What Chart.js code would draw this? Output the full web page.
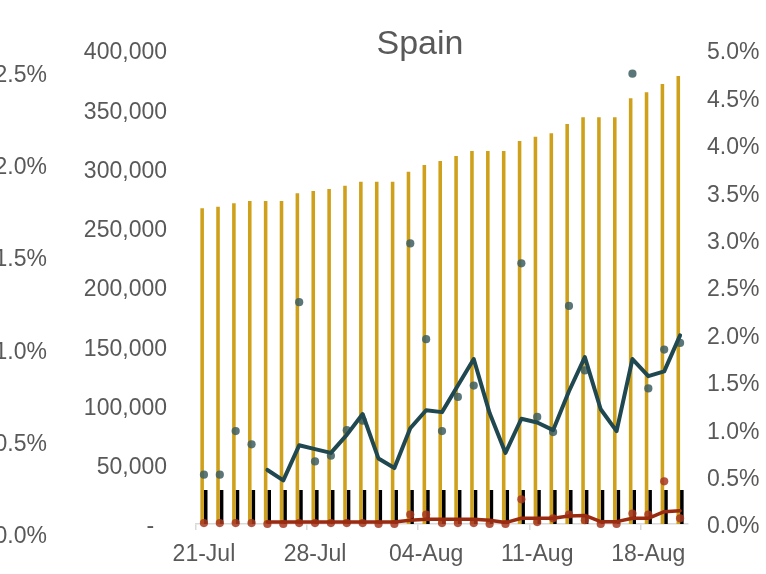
<!DOCTYPE html>
<html>
<head>
<meta charset="utf-8">
<script src="https://cdn.jsdelivr.net/npm/chart.js@4.4.1/dist/chart.umd.min.js"></script>
<style>
  body { margin: 0; background: #fff; }
</style>
</head>
<body>
<canvas id="chart" width="766" height="574"></canvas>
<script>
const dates = ['21-Jul', '22-Jul', '23-Jul', '24-Jul', '25-Jul', '26-Jul', '27-Jul', '28-Jul', '29-Jul', '30-Jul', '31-Jul',
  '01-Aug', '02-Aug', '03-Aug', '04-Aug', '05-Aug', '06-Aug', '07-Aug', '08-Aug', '09-Aug', '10-Aug',
  '11-Aug', '12-Aug', '13-Aug', '14-Aug', '15-Aug', '16-Aug', '17-Aug', '18-Aug', '19-Aug', '20-Aug'];

// cumulative cases (left axis)
const totalCases = [266400, 267800, 270600, 272600, 272600, 272600, 279100, 281000, 282700, 285500, 288900,
  288900, 288900, 297300, 303000, 306300, 310600, 314800, 314800, 314800, 323200,
  326800, 329700, 337600, 343200, 343200, 343200, 359200, 364300, 371300, 378100];
const baseBars = [28700, 28700, 28700, 28700, 28700, 28700, 28700, 28700, 28700, 28700, 28700,
  28700, 28700, 28700, 28700, 28700, 28700, 28700, 28700, 28700, 28700,
  28700, 28700, 28700, 28700, 28700, 28700, 28700, 28700, 28700, 28700];

// percentages (right axis)
const growthDaily = [0.52, 0.52, 0.98, 0.84, null, null, 2.34, 0.66, 0.72, 0.99, 1.09,
  null, null, 2.96, 1.95, 0.98, 1.34, 1.46, null, null, 2.75,
  1.13, 0.97, 2.30, 1.62, null, null, 4.75, 1.43, 1.84, 1.91];
const growthAvg = [null, null, null, null, 0.57, 0.46, 0.83, 0.79, 0.75, 0.94, 1.16,
  0.69, 0.59, 1.01, 1.20, 1.18, 1.46, 1.74, 1.17, 0.75, 1.11,
  1.07, 0.99, 1.40, 1.76, 1.21, 0.98, 1.74, 1.56, 1.61, 1.99];
const deathsDaily = [0.01, 0.01, 0.01, 0.01, 0, 0, 0.01, 0.01, 0.01, 0.01, 0.01,
  0, 0, 0.10, 0.10, 0.01, 0.01, 0.01, 0, 0, 0.26,
  0.02, 0.06, 0.10, 0.04, 0, 0, 0.11, 0.10, 0.45, 0.06];
const deathsAvg = [null, null, null, null, 0.02, 0.02, 0.02, 0.02, 0.02, 0.02, 0.02,
  0.02, 0.02, 0.04, 0.05, 0.05, 0.05, 0.05, 0.04, 0.015, 0.06,
  0.06, 0.06, 0.085, 0.09, 0.025, 0.025, 0.06, 0.06, 0.13, 0.14];

// tick labels
const leftTicks = [0, 50000, 100000, 150000, 200000, 250000, 300000, 350000, 400000];
const rightTicks = [0, 0.5, 1, 1.5, 2, 2.5, 3, 3.5, 4, 4.5, 5];
const farLeftTicks = [0, 0.5, 1, 1.5, 2, 2.5];

const FONT = "'Liberation Sans', Arial, sans-serif";
const GREY = '#595959';
const tickFont = { family: FONT, size: 23 };

// title sits off-centre in the original, so draw it ourselves
const titlePlugin = {
  id: 'titleAt',
  afterDraw(chart) {
    const ctx = chart.ctx;
    ctx.save();
    ctx.font = '34px ' + FONT;
    ctx.fillStyle = GREY;
    ctx.textAlign = 'center';
    ctx.textBaseline = 'alphabetic';
    ctx.fillText('Spain', 420, 54);
    ctx.restore();
  }
};

const fixedTicks = (list) => (scale) => {
  scale.ticks = list.map(v => ({ value: v }));
};

new Chart(document.getElementById('chart'), {
  data: {
    labels: dates,
    datasets: [
      {
        type: 'bar', data: totalCases, yAxisID: 'y', order: 4,
        backgroundColor: '#CFA01A', categoryPercentage: 0.45, barPercentage: 1.0
      },
      {
        type: 'bar', data: baseBars, yAxisID: 'y', order: 5,
        backgroundColor: '#000000', categoryPercentage: 0.45, barPercentage: 1.0
      },
      {
        type: 'line', data: growthDaily, yAxisID: 'y2', order: 3, showLine: false, clip: false,
        pointRadius: 4.1, pointBackgroundColor: 'rgba(62,94,98,0.85)', pointBorderWidth: 0
      },
      {
        type: 'line', data: deathsDaily, yAxisID: 'y2', order: 2, showLine: false, clip: false,
        pointRadius: 4.1, pointBackgroundColor: 'rgba(168,56,34,0.85)', pointBorderWidth: 0
      },
      {
        type: 'line', data: growthAvg, yAxisID: 'y2', order: 1,
        borderColor: '#1F4851', borderWidth: 4, pointRadius: 0, tension: 0,
        borderJoinStyle: 'round', borderCapStyle: 'round'
      },
      {
        type: 'line', data: deathsAvg, yAxisID: 'y2', order: 0,
        borderColor: '#9A2A10', borderWidth: 3.5, pointRadius: 0, tension: 0,
        borderJoinStyle: 'round', borderCapStyle: 'round'
      }
    ]
  },
  options: {
    responsive: false,
    animation: false,
    layout: { padding: { top: 50, left: 0, right: 0, bottom: 0 } },
    plugins: { legend: { display: false }, tooltip: { enabled: false }, title: { display: false } },
    scales: {
      x: {
        offset: true,
        afterFit: (s) => { s.height = 50; },
        border: { display: true, color: '#D9D9D9', width: 1.5 },
        grid: {
          offset: true, drawOnChartArea: false, drawTicks: true, tickLength: 6,
          color: (c) => (c.index % 7 === 0 ? '#D9D9D9' : 'rgba(0,0,0,0)'), lineWidth: 1.5
        },
        ticks: {
          autoSkip: false, maxRotation: 0, padding: 11, color: GREY, font: tickFont,
          callback: (v, i) => (i % 7 === 0 ? dates[i] : '')
        }
      },
      y: {
        position: 'left', weight: 0, min: 0, max: 400000,
        afterFit: (s) => { s.width = 136; },
        afterBuildTicks: fixedTicks(leftTicks),
        border: { display: false },
        grid: { display: false, drawTicks: false },
        ticks: {
          padding: 29, labelOffset: 3, color: GREY, font: tickFont,
          callback: (v) => (v === 0 ? '-  ' : v.toLocaleString('en-US'))
        }
      },
      yFar: {
        position: 'left', weight: 1, min: 0.06, max: 2.626,
        afterFit: (s) => { s.width = 60; },
        afterBuildTicks: fixedTicks(farLeftTicks),
        border: { display: false },
        grid: { display: false, drawTicks: false },
        ticks: { padding: 13, labelOffset: 2, color: GREY, font: tickFont, callback: (v) => v.toFixed(1) + '%' }
      },
      y2: {
        position: 'right', min: 0, max: 5,
        afterFit: (s) => { s.width = 78; },
        afterBuildTicks: fixedTicks(rightTicks),
        border: { display: false },
        grid: { display: false, drawTicks: false },
        ticks: { padding: 19, labelOffset: 3, color: GREY, font: tickFont, callback: (v) => v.toFixed(1) + '%' }
      }
    }
  },
  plugins: [titlePlugin]
});
</script>
</body>
</html>
